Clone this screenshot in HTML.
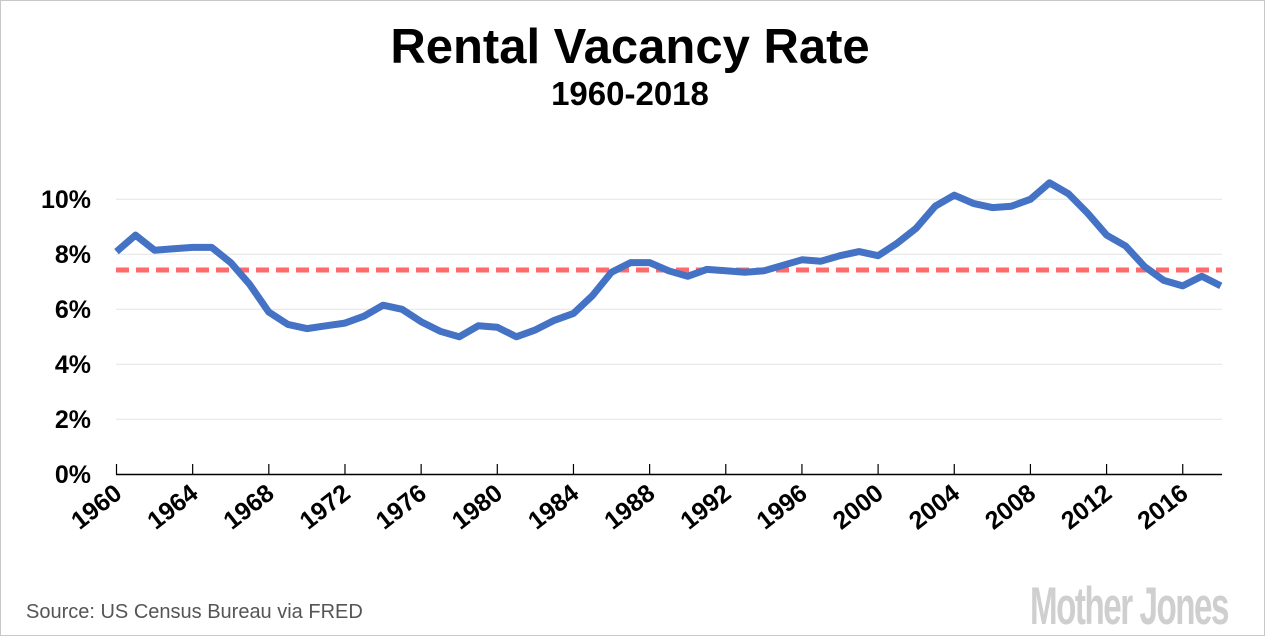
<!DOCTYPE html>
<html><head><meta charset="utf-8"><style>
html,body{margin:0;padding:0;background:#fff}
body{width:1265px;height:636px;overflow:hidden}
</style></head><body>
<svg width="1265" height="636" xmlns="http://www.w3.org/2000/svg" font-family="'Liberation Sans', sans-serif">
<rect x="0.5" y="0.5" width="1264" height="635" fill="#fff" stroke="#c8c8c8"/>
<text x="630" y="63" text-anchor="middle" font-size="49" font-weight="bold" fill="#000">Rental Vacancy Rate</text>
<text x="630" y="105" text-anchor="middle" font-size="33" font-weight="bold" fill="#000">1960-2018</text>
<g stroke="#e3e3e3" stroke-width="1">
<line x1="116" x2="1222" y1="199.3" y2="199.3"/>
<line x1="116" x2="1222" y1="254.3" y2="254.3"/>
<line x1="116" x2="1222" y1="309.3" y2="309.3"/>
<line x1="116" x2="1222" y1="364.3" y2="364.3"/>
<line x1="116" x2="1222" y1="419.3" y2="419.3"/>
</g>
<g font-size="25" font-weight="bold" text-anchor="end" fill="#000">
<text x="91" y="208">10%</text>
<text x="91" y="263">8%</text>
<text x="91" y="318">6%</text>
<text x="91" y="373">4%</text>
<text x="91" y="428">2%</text>
<text x="91" y="483">0%</text>
</g>
<line x1="116" x2="1222" y1="474.5" y2="474.5" stroke="#000" stroke-width="1.5"/>
<g id="ticks" stroke="#000" stroke-width="1.2"></g>
<g id="xl" font-size="25" font-weight="bold" fill="#000"></g>
<line x1="116" x2="1222" y1="270" y2="270" stroke="#ff6b6b" stroke-width="5" stroke-dasharray="13 7"/>
<polyline id="ln" fill="none" stroke="#4472c4" stroke-width="7" stroke-linejoin="round"/>
<text x="26" y="618" font-size="20" fill="#555">Source: US Census Bureau via FRED</text>
<text transform="translate(1030,624) scale(0.72,1.15)" font-size="46" font-weight="bold" fill="#cfcfcf" letter-spacing="-2">Mother Jones</text>
</svg>
<script>
var d=[8.1,8.7,8.15,8.2,8.25,8.25,7.7,6.9,5.9,5.45,5.3,5.4,5.5,5.75,6.15,6.0,5.55,5.2,5.0,5.4,5.35,5.0,5.25,5.6,5.85,6.5,7.35,7.7,7.7,7.4,7.2,7.45,7.4,7.35,7.4,7.6,7.8,7.75,7.95,8.1,7.95,8.4,8.95,9.75,10.15,9.85,9.7,9.75,10.0,10.6,10.2,9.5,8.7,8.3,7.55,7.05,6.85,7.2,6.85];
var X=function(i){return 116.5+i*19.04},Y=function(v){return 474.3-v*27.5};
document.getElementById('ln').setAttribute('points',d.map(function(v,i){return X(i).toFixed(1)+','+Y(v).toFixed(1)}).join(' '));
var t='',l='';
for(var y=1960;y<=2016;y+=4){var x=X(y-1960);t+='<line x1="'+x+'" x2="'+x+'" y1="464" y2="474"/>';
l+='<text transform="translate('+(x+2)+',490) rotate(-38)" text-anchor="end" x="0" y="0" dy="8">'+y+'</text>';}
document.getElementById('ticks').innerHTML=t;document.getElementById('xl').innerHTML=l;
</script>
</body></html>
